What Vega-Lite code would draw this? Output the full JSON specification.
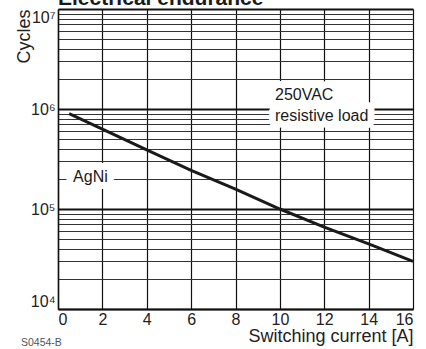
{
  "$schema": "https://vega.github.io/schema/vega-lite/v6.json",
  "width": 355,
  "height": 300,
  "autosize": {"type": "none"},
  "padding": {"left": 58, "top": 9, "right": 13, "bottom": 40},
  "background": "white",
  "title": {
    "text": "Electrical endurance",
    "anchor": "start",
    "frame": "group",
    "font": "Liberation Sans",
    "fontSize": 21,
    "fontWeight": "bold",
    "color": "#1a1a1a",
    "baseline": "alphabetic",
    "offset": -20
  },
  "config": {
    "view": {"stroke": null},
    "font": "Liberation Sans"
  },
  "encoding": {
    "x": {
      "field": "current",
      "type": "quantitative",
      "scale": {"domain": [0, 16], "nice": false, "zero": false},
      "axis": {
        "values": [0, 2, 4, 6, 8, 10, 12, 14, 16],
        "grid": true,
        "gridColor": "#111111",
        "gridWidth": 1.2,
        "ticks": false,
        "domainColor": "#111111",
        "domainWidth": 1.5,
        "labelFlush": true,
        "labelOverlap": false,
        "labelFontSize": 16,
        "labelColor": "#222222",
        "labelPadding": 2,
        "title": "Switching current [A]",
        "titleAnchor": "end",
        "titleFontSize": 18,
        "titleFontWeight": "normal",
        "titleColor": "#222222",
        "titlePadding": 0
      }
    },
    "y": {
      "field": "cycles",
      "type": "quantitative",
      "scale": {"type": "log", "domain": [10000, 10000000], "nice": false},
      "axis": {
        "values": [10000, 20000, 30000, 40000, 50000, 60000, 70000, 80000, 90000, 100000, 200000, 300000, 400000, 500000, 600000, 700000, 800000, 900000, 1000000, 2000000, 3000000, 4000000, 5000000, 6000000, 7000000, 8000000, 9000000, 10000000],
        "labelExpr": "datum.value == 10000 ? '10⁴' : datum.value == 100000 ? '10⁵' : datum.value == 1000000 ? '10⁶' : datum.value == 10000000 ? '10⁷' : ''",
        "grid": true,
        "gridColor": {"condition": {"test": "datum.value == 10000 || datum.value == 100000 || datum.value == 1000000 || datum.value == 10000000", "value": "#111111"}, "value": "#333333"},
        "gridWidth": {"condition": {"test": "datum.value == 10000 || datum.value == 100000 || datum.value == 1000000 || datum.value == 10000000", "value": 2}, "value": 1},
        "ticks": false,
        "domainColor": "#111111",
        "domainWidth": 1.5,
        "labelFlush": true,
        "labelOverlap": false,
        "labelFontSize": 16,
        "labelColor": "#222222",
        "labelPadding": 3,
        "title": "Cycles",
        "titleAnchor": "end",
        "titleFontSize": 18,
        "titleFontWeight": "normal",
        "titleColor": "#222222",
        "titlePadding": -3
      }
    }
  },
  "layer": [
    {
      "data": {"values": [
        {"current": 0.5, "cycles": 900000},
        {"current": 2, "cycles": 630000},
        {"current": 4, "cycles": 390000},
        {"current": 6, "cycles": 243000},
        {"current": 8, "cycles": 158000},
        {"current": 10, "cycles": 100000},
        {"current": 12, "cycles": 66000},
        {"current": 14, "cycles": 44700},
        {"current": 16, "cycles": 30000}
      ]},
      "mark": {"type": "line", "color": "#1a1a1a", "strokeWidth": 3}
    },
    {
      "data": {"name": "notes", "values": [
        {"current": 9.78, "cycles": 1220000, "label": "250VAC"},
        {"current": 9.78, "cycles": 750000, "label": "resistive load"},
        {"current": 0.68, "cycles": 186000, "label": "AgNi"}
      ]},
      "mark": {"type": "text", "align": "left", "baseline": "alphabetic", "fontSize": 16, "fill": "white", "stroke": "white", "strokeWidth": 14, "strokeJoin": "round"},
      "encoding": {"text": {"field": "label"}}
    },
    {
      "data": {"name": "notes"},
      "mark": {"type": "text", "align": "left", "baseline": "alphabetic", "fontSize": 16, "color": "#1a1a1a"},
      "encoding": {"text": {"field": "label"}}
    },
    {
      "data": {"values": [{"current": -1.67, "cycles": 4520, "label": "S0454-B"}]},
      "mark": {"type": "text", "align": "left", "baseline": "middle", "fontSize": 10.5, "color": "#555555"},
      "encoding": {"text": {"field": "label"}}
    }
  ]
}
